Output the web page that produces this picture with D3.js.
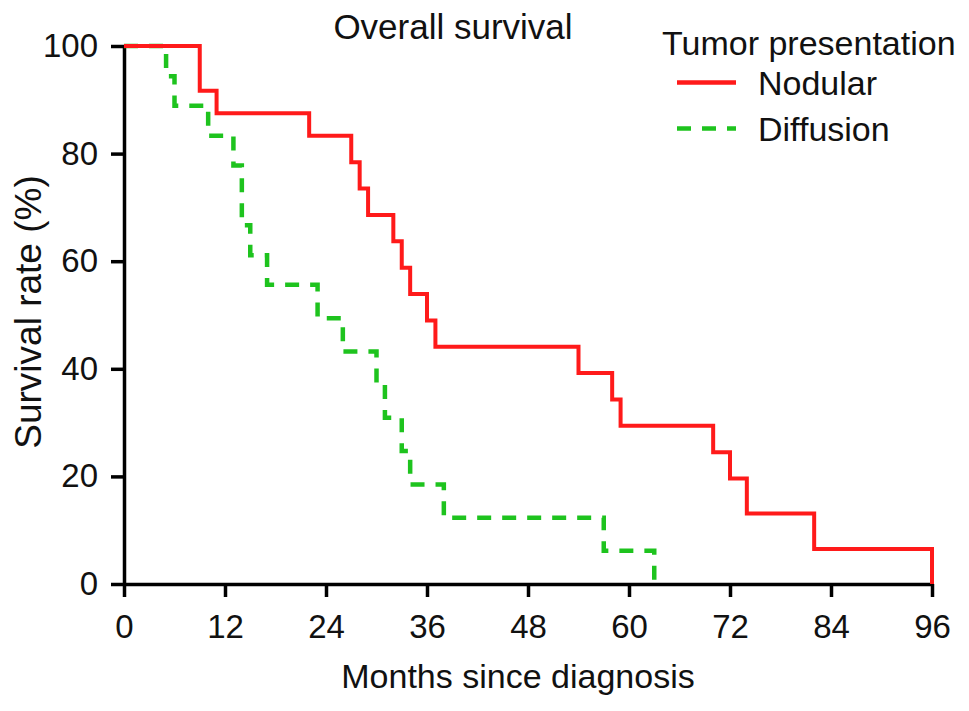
<!DOCTYPE html>
<html lang="en">
  <head>
    <meta charset="UTF-8" />
    <title>Overall survival</title>
    <script src="https://d3js.org/d3.v7.min.js"></script>
    <style>
      body {
        margin: 0;
        background: #fff;
      }

      svg {
        display: block;
        font-family: "Liberation Sans", Arial, sans-serif;
      }

      .axis path,
      .axis line {
        stroke: #000;
        stroke-width: 3.5;
      }

      .axis text {
        font-size: 33px;
        fill: #111;
      }
    </style>
  </head>
  <body>
    <script>
      // Kaplan-Meier steps (month, survival %)
      const nodularMonths = [0, 9, 11, 22, 27, 28, 29, 32, 33, 34, 36, 37, 54, 58, 59, 70, 72, 74, 82, 96];
      const nodularSurvival = [100, 91.7, 87.5, 83.3, 78.4, 73.5, 68.6, 63.7, 58.8, 53.9, 49.0, 44.1, 39.2, 34.3, 29.4, 24.5, 19.6, 13.1, 6.5, 0];

      const diffusionMonths = [0, 5, 6, 10, 13, 14, 15, 17, 23, 26, 30, 31, 33, 34, 38, 57, 63];
      const diffusionSurvival = [100, 94.4, 88.9, 83.3, 77.8, 66.7, 61.1, 55.6, 49.4, 43.2, 37.0, 30.9, 24.7, 18.5, 12.3, 6.2, 0];

      const xTicks = [0, 12, 24, 36, 48, 60, 72, 84, 96];
      const yTicks = [0, 20, 40, 60, 80, 100];

      const width = 969;
      const height = 711;

      const svg = d3
        .select("body")
        .append("svg")
        .attr("width", width)
        .attr("height", height);

      const x = d3.scaleLinear().domain([0, 96]).range([124, 932]);
      const y = d3.scaleLinear().domain([0, 100]).range([584, 46]);

      // axes
      svg
        .append("g")
        .attr("class", "axis")
        .attr("transform", "translate(0,584)")
        .call(
          d3.axisBottom(x).tickValues(xTicks).tickSize(13).tickSizeOuter(0).tickPadding(18)
        );

      svg
        .append("g")
        .attr("class", "axis")
        .attr("transform", "translate(124,0)")
        .call(
          d3.axisLeft(y).tickValues(yTicks).tickSize(13).tickSizeOuter(0).tickPadding(13)
        );

      // survival curves
      const line = d3
        .line()
        .x((d) => x(d[0]))
        .y((d) => y(d[1]))
        .curve(d3.curveStepAfter);

      const nodular = nodularMonths.map((m, i) => [m, nodularSurvival[i]]);
      const diffusion = diffusionMonths.map((m, i) => [m, diffusionSurvival[i]]);

      svg
        .append("path")
        .datum(diffusion)
        .attr("d", line)
        .attr("fill", "none")
        .attr("stroke", "#1ec31e")
        .attr("stroke-width", 4.5)
        .attr("stroke-dasharray", "14,11");

      svg
        .append("path")
        .datum(nodular)
        .attr("d", line)
        .attr("fill", "none")
        .attr("stroke", "#ff1a1a")
        .attr("stroke-width", 4);

      // titles
      svg
        .append("text")
        .attr("x", 453)
        .attr("y", 39)
        .attr("text-anchor", "middle")
        .attr("font-size", 35)
        .attr("fill", "#111")
        .text("Overall survival");

      svg
        .append("text")
        .attr("x", 518)
        .attr("y", 688)
        .attr("text-anchor", "middle")
        .attr("font-size", 34)
        .attr("fill", "#111")
        .text("Months since diagnosis");

      svg
        .append("text")
        .attr("transform", "translate(41,312) rotate(-90)")
        .attr("text-anchor", "middle")
        .attr("font-size", 37)
        .attr("fill", "#111")
        .text("Survival rate (%)");

      // legend
      const legend = svg.append("g");

      legend
        .append("text")
        .attr("x", 662)
        .attr("y", 55)
        .attr("font-size", 34)
        .attr("fill", "#111")
        .text("Tumor presentation");

      const items = [
        { label: "Nodular", color: "#ff1a1a", dash: null, y: 82.5 },
        { label: "Diffusion", color: "#1ec31e", dash: "14,11", y: 128.5 },
      ];

      items.forEach((d) => {
        legend
          .append("line")
          .attr("x1", 677)
          .attr("x2", 736)
          .attr("y1", d.y)
          .attr("y2", d.y)
          .attr("stroke", d.color)
          .attr("stroke-width", 4.5)
          .attr("stroke-dasharray", d.dash);

        legend
          .append("text")
          .attr("x", 758)
          .attr("y", d.y + 12)
          .attr("font-size", 34)
          .attr("fill", "#111")
          .text(d.label);
      });
    </script>
  </body>
</html>
